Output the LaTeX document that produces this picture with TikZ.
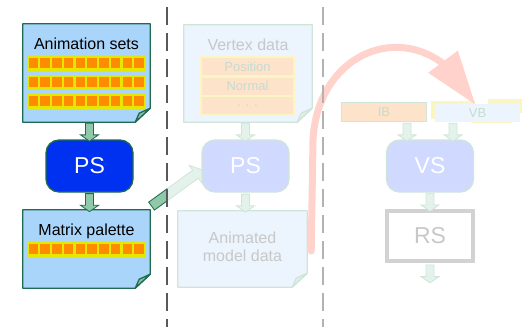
\documentclass[tikz,border=0pt]{standalone}
\usepackage{fontspec}
\setmainfont{Liberation Sans}
\usepackage{tikz}
\usetikzlibrary{positioning}
\usetikzlibrary{calc}
\usetikzlibrary{arrows.meta}
\usetikzlibrary{bending}
\usetikzlibrary{shapes.arrows}
\definecolor{docblue}{HTML}{AAD5FA}
\definecolor{docline}{HTML}{1F6B50}
\definecolor{foldgreen}{HTML}{8CBFA8}
\definecolor{psblue}{HTML}{0030F0}
\definecolor{arrowgreen}{HTML}{8FC9A9}
\definecolor{sqorange}{HTML}{FF8C00}
\definecolor{sqyellow}{HTML}{E6E600}
\definecolor{fadedoc}{HTML}{ECF4FD}
\definecolor{fadeline}{HTML}{D0E5DA}
\definecolor{fadefold}{HTML}{E2EFE9}
\definecolor{fadeps}{HTML}{D0D9FF}
\definecolor{fadearrow}{HTML}{E3F3EB}
\definecolor{fadetext}{HTML}{C8C8C8}
\definecolor{fadecell}{HTML}{C6DBD1}
\definecolor{peach}{HTML}{FDE3C9}
\definecolor{paleyellow}{HTML}{FAF6C4}
\definecolor{redfade}{HTML}{FFD3CB}
\definecolor{rsgray}{HTML}{D2D2D2}
\tikzstyle{page}=[inner sep=0pt,minimum width=127pt]
\tikzstyle{pagetitle}=[inner sep=0pt,font=\fontsize{16}{18.5}\selectfont]
\tikzstyle{shader}=[rounded corners=13pt,minimum width=87pt,minimum height=52pt,line width=1.3pt,text=white,font=\fontsize{23}{23}\selectfont]
\tikzstyle{fatarrow}=[single arrow,inner xsep=0pt,inner ysep=3.6pt,minimum height=18pt,single arrow head extend=5pt,single arrow tip angle=110,line width=0.8pt,sloped]
\tikzstyle{darkarrow}=[fatarrow,fill=arrowgreen,draw=docline]
\tikzstyle{fadearrow}=[fatarrow,fill=fadearrow,draw=fadeline]
\tikzstyle{cell}=[fill=peach,draw=paleyellow,line width=2pt,minimum width=93pt,minimum height=19pt,text=fadecell,font=\fontsize{13}{13}\selectfont]

% page with a folded corner: node, fill, line, fold
\newcommand{\docpage}[4]{
  \filldraw[fill=#2,draw=#3,line width=1.3pt,line join=round]
    (#1.north west) -- (#1.north east) -- ([yshift=14pt]#1.south east)
    -- ([xshift=-15pt]#1.south east) -- (#1.south west) -- cycle;
  \filldraw[fill=#4,draw=#3,line width=1.3pt,line join=round]
    ([yshift=14pt]#1.south east) -- ([xshift=-15pt]#1.south east)
    -- ([xshift=-11pt,yshift=9pt]#1.south east) -- cycle;
}
% one row of palette entries at height #1
\newcommand{\palrow}[1]{
  \fill[sqyellow] (27,#1-7.5) rectangle (146,#1+7.5);
  \foreach \k in {0,...,9}
    \fill[sqorange] ({28.7+11.75*\k},#1-4.8) rectangle ++(9.5,9.6);
}

\begin{document}
\begin{tikzpicture}[x=1pt,y=-1pt]
  \useasboundingbox[fill=white] (0,0) rectangle (529,327);

  % left column
  \node[page,minimum height=98pt] (animA) at (86.5,73) {};
  \docpage{animA}{docblue}{docline}{foldgreen}
  \node[pagetitle] (animAtxt) at (86.5,44) {Animation sets};
  \foreach \r in {63,82,101}{
    \palrow{\r}
  }
  \node[shader,fill=psblue,draw=docline] (psA) at (89.5,166) {PS};
  \node[page,minimum height=78pt] (matA) at (86.5,249) {};
  \docpage{matA}{docblue}{docline}{foldgreen}
  \node[pagetitle] (matAtxt) at (86.5,231) {Matrix palette};
  \palrow{249}

  \path (animA.south -| psA) -- (psA.north) node[midway,darkarrow] {};
  \path (psA.south) -- (psA.south |- matA.north) node[midway,darkarrow] {};

  % middle column
  \node[page,minimum width=128pt,minimum height=97pt] (vtxB) at (248,73.5) {};
  \docpage{vtxB}{fadedoc}{fadeline}{fadefold}
  \node[pagetitle,text=fadetext] (vtxBtxt) at (248,45) {Vertex data};
  \fill[paleyellow] (200,56) rectangle (295,115);
  \node[cell] (pos) at (247.5,66.5) {Position};
  \node[cell] (nrm) at (247.5,86) {Normal};
  \node[cell] (etc) at (247.5,105.5) {. . .};
  \node[shader,fill=fadeps,draw=fadeline] (psB) at (245.5,166) {PS};
  \node[page,minimum width=129pt,minimum height=76pt] (animB) at (242.5,249) {};
  \docpage{animB}{fadedoc}{fadeline}{fadefold}
  \node[pagetitle,text=fadetext,align=center] (animBtxt) at (242.5,247) {Animated\\model data};

  \path (vtxB.south -| psB) -- (psB.north) node[midway,fadearrow] {};
  \path (psB.south) -- (psB.south |- animB.north) node[midway,fadearrow] {};

  % palette into the skinning pass
  \path ([xshift=-1pt,yshift=2pt]matA.north east) -- ([yshift=-4pt]psB.west)
    node[midway,fadearrow,minimum height=62pt,inner ysep=4.5pt,single arrow head extend=6pt] {};
  \begin{scope}
    \clip (0,0) rectangle (167,327);
    \path ([xshift=-1pt,yshift=2pt]matA.north east) -- ([yshift=-4pt]psB.west)
      node[midway,darkarrow,minimum height=62pt,inner ysep=4.5pt,single arrow head extend=6pt] {};
  \end{scope}

  % right column
  \fill[paleyellow] (432,101) rectangle (475,106);
  \fill[paleyellow] (488,99) rectangle (522,113);
  \fill[paleyellow] (431,101) rectangle (437,119);
  \fill[paleyellow] (472,119) rectangle (512,123);
  \node[fill=fadedoc,minimum width=85pt,minimum height=18pt,inner sep=0pt,text=fadecell,font=\fontsize{13}{13}\selectfont] (vb) at (477.5,113) {VB};
  \node[fill=peach,draw=fadeline,line width=1.3pt,minimum width=85pt,minimum height=19pt,inner sep=0pt,text=fadecell,font=\fontsize{13}{13}\selectfont] (ib) at (384,112) {IB};
  \node[shader,fill=fadeps,draw=fadeline] (vsC) at (430,166) {VS};
  \node[draw=rsgray,line width=4pt,minimum width=86pt,minimum height=50pt,text=fadetext,font=\fontsize{23}{23}\selectfont] (rsC) at (430,236) {RS};
  \coordinate (rsout) at (430,282);

  \path ($(vsC.north |- ib.south)+(-23,0)$) -- ($(vsC.north)+(-23,0)$) node[midway,fadearrow] {};
  \path ($(vsC.north |- ib.south)+(23,0)$) -- ($(vsC.north)+(23,0)$) node[midway,fadearrow] {};
  \path (vsC.south) -- (rsC.north) node[midway,fadearrow] {};
  \path (rsC.south) -- (rsout) node[midway,fadearrow] {};

  % skinned vertices go back into the vertex buffer
  \coordinate (bend) at (313,140);
  \draw[redfade,line width=7pt,line cap=round,-{Triangle[length=54pt,width=35pt,flex]}]
    ([xshift=4pt,yshift=-2pt]animB.east) -- (bend)
    .. controls (318,40) and (430,10) .. ([xshift=-2pt,yshift=-1pt]vb.north);

  % separators
  \draw[black!65,line width=1.8pt,dash pattern=on 18pt off 8pt] (167,7) -- (167,327);
  \draw[black!30,line width=1.8pt,dash pattern=on 18pt off 8pt] (323,7) -- (323,327);
\end{tikzpicture}
\end{document}
